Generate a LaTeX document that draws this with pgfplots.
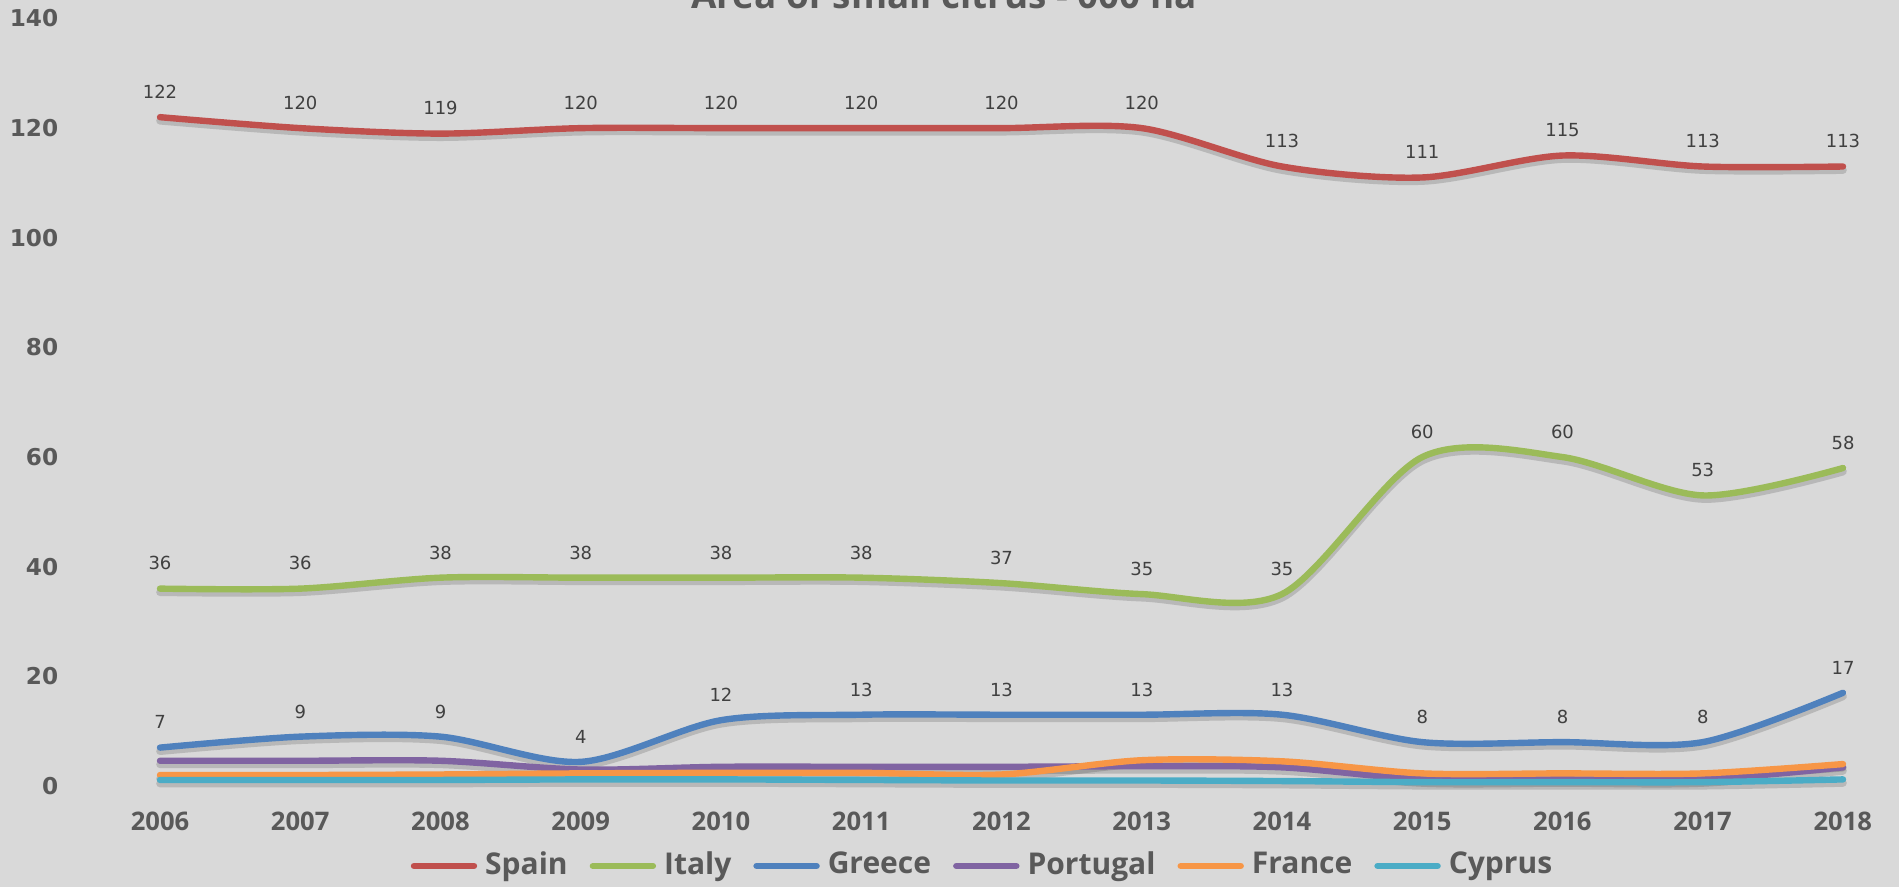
\documentclass[border=0pt]{standalone}
\usepackage{fontspec}
\setmainfont{Open Sans}
\newfontfamily\dejavu{DejaVu Sans}
\usepackage{pgfplots}
\usepackage{pgfplotstable}
\pgfplotsset{compat=1.18}

\definecolor{bg}{HTML}{D9D9D9}
\definecolor{txt}{HTML}{595959}
\definecolor{lbl}{HTML}{404040}
\definecolor{spain}{HTML}{C0504D}
\definecolor{italy}{HTML}{9BBB59}
\definecolor{greece}{HTML}{4F81BD}
\definecolor{portugal}{HTML}{8064A2}
\definecolor{france}{HTML}{F79646}
\definecolor{cyprus}{HTML}{4BACC6}

% area of small citrus, 000 ha
\pgfplotstableread{
year spain italy greece portugal france cyprus
2006 122 36 7   4.6 2.0 1.1
2007 120 36 9   4.6 2.0 1.1
2008 119 38 9   4.6 2.1 1.1
2009 120 38 4.4 3.0 2.3 1.2
2010 120 38 12  3.5 2.4 1.2
2011 120 38 13  3.5 2.4 1.1
2012 120 37 13  3.5 2.1 1.0
2013 120 35 13  3.6 4.7 1.0
2014 113 35 13  3.4 4.5 0.9
2015 111 60 8   1.2 2.3 0.7
2016 115 60 8   1.2 2.3 0.7
2017 113 53 8   1.2 2.3 0.7
2018 113 58 17  3.4 4.0 1.2
}\citrus

\begin{document}
\begin{tikzpicture}
\useasboundingbox (0,0) rectangle (474.75pt,221.75pt);
\fill[bg] (0,0) rectangle (474.75pt,221.75pt);
\clip (0,0) rectangle (474.75pt,221.75pt);
\node[anchor=base, font=\fontsize{9.2}{11}\selectfont\bfseries, text=txt]
  at (236pt,219.6pt) {Area of small citrus - 000 ha};
\begin{axis}[
    at={(40pt,25.25pt)}, anchor=south west,
    scale only axis, width=420.75pt, height=191.875pt,
    xmin=2006, xmax=2018, ymin=0, ymax=140,
    xtick={2006,...,2018}, ytick={0,20,...,140},
    axis line style={draw=none}, major tick length=0pt,
    /pgf/number format/1000 sep={},
    /pgf/number format/assume math mode=true,
    xticklabel style={anchor=center, inner sep=0pt, yshift=-8.9pt,
        font=\fontsize{6.4}{7}\selectfont\bfseries, text=txt},
    yticklabel style={anchor=east, inner sep=0pt, xshift=-25.25pt,
        font=\dejavu\fontsize{5.8}{7}\selectfont\bfseries, text=txt},
    clip=false,
    legend columns=6,
    legend style={at={(0.4905,-0.1042)}, anchor=center, draw=none, fill=none,
        font=\fontsize{7.5}{9}\selectfont\bfseries, text=txt,
        /tikz/every even column/.append style={column sep=3.5pt}},
    legend image code/.code={\draw[#1] (0pt,0pt) -- (15pt,0pt);},
    every axis plot/.append style={line width=1.6pt, line cap=round, smooth},
    shadow/.style={draw=black, opacity=0.15, line width=1.9pt, forget plot, yshift=-0.9pt},
    labels/.style={nodes near coords={\pgfmathprintnumber[fixed,precision=0]{\pgfplotspointmeta}},
        every node near coord/.append style={font=\dejavu\fontsize{4.5}{5}\selectfont,
            text=lbl, anchor=center, inner sep=0pt, yshift=6.3pt, opacity=1}},
]
\addplot[shadow] table[x=year, y=spain] {\citrus};
\addplot[shadow] table[x=year, y=italy] {\citrus};
\addplot[shadow] table[x=year, y=greece] {\citrus};
\addplot[shadow] table[x=year, y=portugal] {\citrus};
\addplot[shadow] table[x=year, y=france] {\citrus};
\addplot[shadow] table[x=year, y=cyprus] {\citrus};

\addplot[spain, labels] table[x=year, y=spain] {\citrus};
\addplot[italy, labels] table[x=year, y=italy] {\citrus};
\addplot[greece, labels] table[x=year, y=greece] {\citrus};
\addplot[portugal] table[x=year, y=portugal] {\citrus};
\addplot[france] table[x=year, y=france] {\citrus};
\addplot[cyprus] table[x=year, y=cyprus] {\citrus};
\legend{Spain, Italy, Greece, Portugal, France, Cyprus}
\end{axis}
\end{tikzpicture}
\end{document}
